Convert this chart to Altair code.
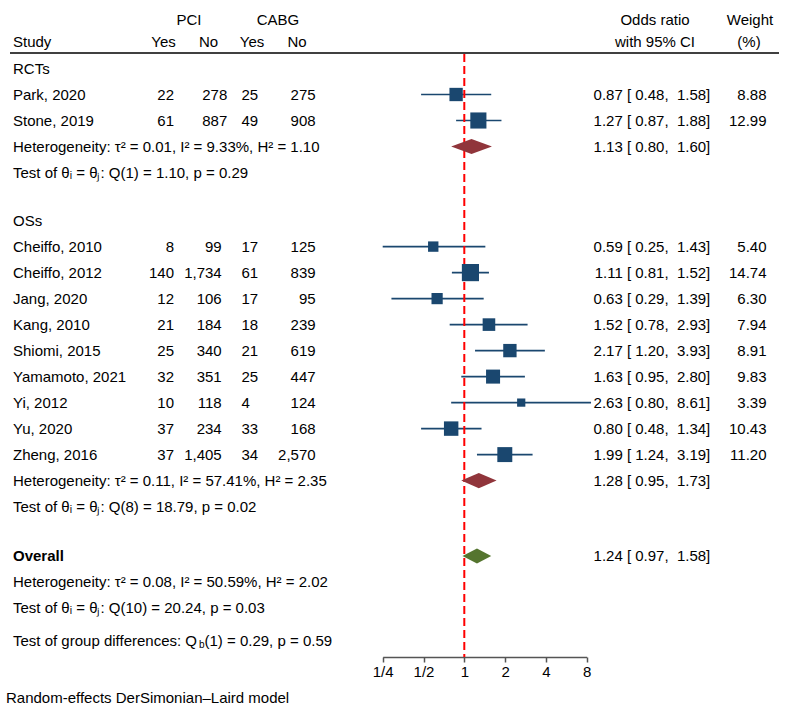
import altair as alt
import pandas as pd

# ---------------- data ----------------
groups = ["RCTs", "OSs"]
study_group = ["RCTs", "RCTs", "OSs", "OSs", "OSs", "OSs", "OSs", "OSs", "OSs", "OSs", "OSs"]
studies = ["Park, 2020", "Stone, 2019", "Cheiffo, 2010", "Cheiffo, 2012", "Jang, 2020",
           "Kang, 2010", "Shiomi, 2015", "Yamamoto, 2021", "Yi, 2012", "Yu, 2020", "Zheng, 2016"]
pci_yes = [22, 61, 8, 140, 12, 21, 25, 32, 10, 37, 37]
pci_no = [278, 887, 99, 1734, 106, 184, 340, 351, 118, 234, 1405]
cabg_yes = [25, 49, 17, 61, 17, 18, 21, 25, 4, 33, 34]
cabg_no = [275, 908, 125, 839, 95, 239, 619, 447, 124, 168, 2570]
or_est = [0.87, 1.27, 0.59, 1.11, 0.63, 1.52, 2.17, 1.63, 2.63, 0.80, 1.99]
ci_lo = [0.48, 0.87, 0.25, 0.81, 0.29, 0.78, 1.20, 0.95, 0.80, 0.48, 1.24]
ci_hi = [1.58, 1.88, 1.43, 1.52, 1.39, 2.93, 3.93, 2.80, 8.61, 1.34, 3.19]
weight = [8.88, 12.99, 5.40, 14.74, 6.30, 7.94, 8.91, 9.83, 3.39, 10.43, 11.20]

pooled_group = ["RCTs", "OSs", "Overall"]
pooled_or = [1.13, 1.28, 1.24]
pooled_lo = [0.80, 0.95, 0.97]
pooled_hi = [1.60, 1.73, 1.58]
het_tau2 = ["0.01", "0.11", "0.08"]
het_i2 = ["9.33", "57.41", "50.59"]
het_h2 = ["1.10", "2.35", "2.02"]
q_df = [1, 8, 10]
q_val = ["1.10", "18.79", "20.24"]
q_p = ["0.29", "0.02", "0.03"]
qb_df, qb_val, qb_p = 1, "0.29", "0.59"
tick_values = [0.25, 0.5, 1, 2, 4, 8]

# ---------------- style ----------------
FONT = "Liberation Sans"
FS = 15
NAVY = "#1A476F"
MAROON = "#90353B"
GREEN = "#55752F"
H = 0.29  # diamond half height (row units)


def fmt_ci(e, lo, hi):
    return f"{e:.2f} [\u00a0{lo:.2f},\u00a0\u00a0{hi:.2f}]"


# ---------------- layout rows ----------------
text_rows, bold_rows, study_rows, pooled_rows = [], [], [], []
pos = 0.0
gaps = {"RCTs": 0.85, "OSs": 0.9}
for gi, g in enumerate(groups):
    text_rows.append(dict(pos=pos, label=g))
    pos += 1
    for i, s in enumerate(studies):
        if study_group[i] != g:
            continue
        text_rows.append(dict(pos=pos, label=s))
        study_rows.append(dict(pos=pos, sec=g, py=f"{pci_yes[i]:,}", pn=f"{pci_no[i]:,}",
                               cy=f"{cabg_yes[i]:,}", cn=f"{cabg_no[i]:,}",
                               est=or_est[i], lo=ci_lo[i], hi=ci_hi[i], w=weight[i],
                               ortxt=fmt_ci(or_est[i], ci_lo[i], ci_hi[i]),
                               wtxt=f"{weight[i]:.2f}"))
        pos += 1
    text_rows.append(dict(pos=pos, label=f"Heterogeneity: \u03c4\u00b2 = {het_tau2[gi]}, I\u00b2 = {het_i2[gi]}%, H\u00b2 = {het_h2[gi]}"))
    pooled_rows.append(dict(pos=pos, g=g))
    pos += 1
    text_rows.append(dict(pos=pos, label=f"Test of \u03b8\u1d62 = \u03b8\u2c7c: Q({q_df[gi]}) = {q_val[gi]}, p = {q_p[gi]}"))
    pos += 1 + gaps[g]

bold_rows.append(dict(pos=pos, label="Overall"))
pooled_rows.append(dict(pos=pos, g="Overall"))
pos += 1
text_rows.append(dict(pos=pos, label=f"Heterogeneity: \u03c4\u00b2 = {het_tau2[2]}, I\u00b2 = {het_i2[2]}%, H\u00b2 = {het_h2[2]}"))
pos += 1
text_rows.append(dict(pos=pos, label=f"Test of \u03b8\u1d62 = \u03b8\u2c7c: Q({q_df[2]}) = {q_val[2]}, p = {q_p[2]}"))
pos += 1.25
group_pos = pos

for k, r in enumerate(pooled_rows):
    r.update(est=pooled_or[k], lo=pooled_lo[k], hi=pooled_hi[k],
             ortxt=fmt_ci(pooled_or[k], pooled_lo[k], pooled_hi[k]))

dia = []
for r in pooled_rows:
    kind = "overall" if r["g"] == "Overall" else "sub"
    for xv, dy in [(r["lo"], 0), (r["est"], H), (r["hi"], 0)]:
        dia.append(dict(g=r["g"], kind=kind, x=xv, y=r["pos"] - dy, y2=r["pos"] + dy))

text_df = pd.DataFrame(text_rows)
bold_df = pd.DataFrame(bold_rows)
study_df = pd.DataFrame(study_rows)
pooled_df = pd.DataFrame(pooled_rows)
dia_df = pd.DataFrame(dia)
one = pd.DataFrame({"a": [0]})

# ---------------- scales ----------------
xs = alt.Scale(type="log", base=2, domain=[0.25, 8], range=[382.7, 586.7], nice=False)
ys = alt.Scale(domain=[0, 22], range=[68.5, 640.5], nice=False, zero=False)
ax = alt.Axis(values=tick_values, title=None, grid=False,
              labelExpr="datum.value < 1 ? '1/' + round(1/datum.value) : format(datum.value, 'd')",
              domainColor="#555555", tickColor="#555555", domainWidth=1.5, tickWidth=1.5,
              tickSize=5, labelFont=FONT, labelFontSize=FS, labelColor="black",
              labelPadding=2, labelOverlap=False, labelFlush=False, labelBound=False)
Y = alt.Y("pos:Q", scale=ys, axis=None)


def txt(df, field, x, align="left", sel=None, **kw):
    c = alt.Chart(df)
    if sel is not None:
        c = c.transform_filter(sel)
    return c.mark_text(align=align, baseline="middle", font=FONT, fontSize=FS,
                       color="black", **kw).encode(x=alt.value(x), y=Y, text=f"{field}:N")


def label(s, x, y, align="center", size=FS, **kw):
    return alt.Chart(one).mark_text(align=align, baseline="middle", font=FONT, fontSize=size,
                                    color="black", **kw).encode(
        x=alt.value(x), y=alt.value(y), text=alt.value(s))


# widths (Arial metrics) for placing the subscript in Q_b
AW = {"T": 611, "e": 556, "s": 500, "t": 278, " ": 278, "o": 556, "f": 278, "g": 556, "r": 333,
      "u": 556, "p": 556, "d": 556, "i": 222, "n": 556, "c": 500, ":": 278, "Q": 778}
grp_prefix = "Test of group differences: Q"
x_b = 13 + sum(AW[c] for c in grp_prefix) * FS / 1000.0
x_rest = x_b + 0.556 * 10

layers = []
# header
layers += [
    label("PCI", 189, 20), label("CABG", 278, 20),
    label("Study", 13, 42, align="left"),
    label("Yes", 163.5, 42), label("No", 208.5, 42), label("Yes", 252, 42), label("No", 297, 42),
    label("Odds ratio", 655, 20), label("with 95% CI", 655, 42),
    label("Weight", 750, 20), label("(%)", 749, 42),
]
layers.append(alt.Chart(one).mark_rule(color="black", strokeWidth=1.3).encode(
    x=alt.value(10), x2=alt.value(779), y=alt.value(53)))

# left texts
layers.append(txt(text_df, "label", 13))
layers.append(txt(bold_df, "label", 13, fontWeight="bold"))
layers.append(txt(study_df, "py", 174, align="right"))
layers.append(txt(study_df, "pn", 227.3, align="right", sel="datum.sec == 'RCTs'"))
layers.append(txt(study_df, "pn", 221.7, align="right", sel="datum.sec == 'OSs'"))
layers.append(txt(study_df, "cy", 241.5, align="left"))
layers.append(txt(study_df, "cn", 315.6, align="right"))
# right texts
layers.append(txt(study_df, "ortxt", 710.3, align="right"))
layers.append(txt(study_df, "wtxt", 766.5, align="right"))
layers.append(txt(pooled_df, "ortxt", 710.3, align="right"))

# group differences test + footer
gy = 68.5 + group_pos * 26
layers += [
    label(grp_prefix, 13, gy, align="left"),
    label("b", x_b, gy + 4, align="left", size=10),
    label(f"({qb_df}) = {qb_val}, p = {qb_p}", x_rest, gy, align="left"),
    label("Random-effects DerSimonian\u2013Laird model", 6, 698, align="left"),
]

# CI lines
layers.append(alt.Chart(study_df).mark_rule(color=NAVY, strokeWidth=1.6).encode(
    x=alt.X("lo:Q", scale=xs, axis=ax), x2="hi:Q", y=Y))
# reference line at 1
layers.append(alt.Chart(one).mark_rule(color="#FF0000", strokeWidth=2, strokeDash=[8, 4]).encode(
    x=alt.XDatum(1, type="quantitative", scale=xs, axis=ax), y=alt.value(54), y2=alt.value(657)))
# squares
layers.append(alt.Chart(study_df).mark_square(filled=True, opacity=1, color=NAVY).encode(
    x=alt.X("est:Q", scale=xs, axis=ax), y=Y,
    size=alt.Size("w:Q", scale=alt.Scale(domain=[0, 15], range=[0, 300]), legend=None)))
# diamonds
layers.append(alt.Chart(dia_df).mark_area(orient="vertical", interpolate="linear", opacity=1).encode(
    x=alt.X("x:Q", scale=xs, axis=ax),
    y=alt.Y("y:Q", scale=ys, axis=None), y2="y2:Q", detail="g:N",
    color=alt.Color("kind:N", scale=alt.Scale(domain=["sub", "overall"], range=[MAROON, GREEN]),
                    legend=None)))

chart = alt.layer(*layers).properties(
    width=791, height=657, autosize="none", background="white",
    padding={"left": 0, "right": 0, "top": 0, "bottom": 54},
).configure_view(stroke=None, strokeWidth=0)

chart.save("out.html", embed_options={"renderer": "svg", "actions": False})
